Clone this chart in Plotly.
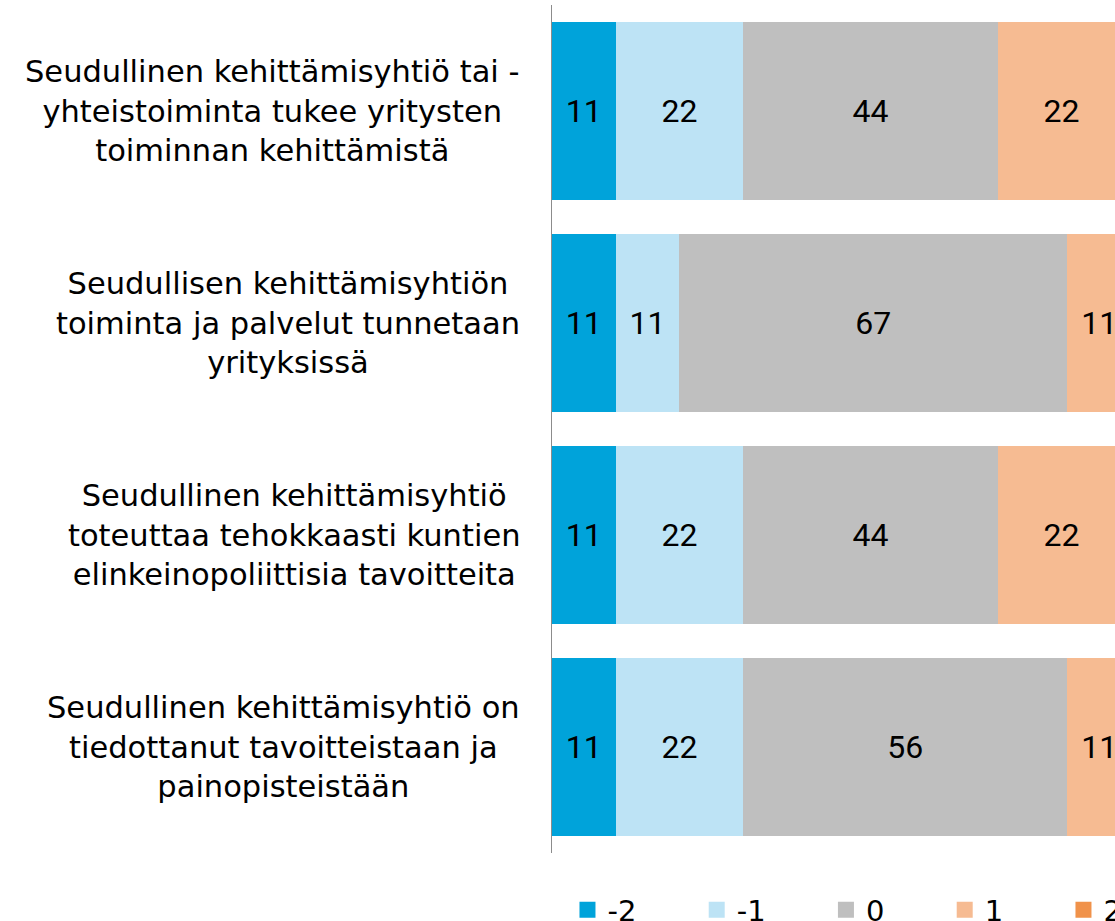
import plotly.graph_objects as go

categories = [
    "Seudullinen kehittämisyhtiö tai -<br>yhteistoiminta tukee yritysten<br>toiminnan kehittämistä",
    "Seudullisen kehittämisyhtiön<br>toiminta ja palvelut tunnetaan<br>yrityksissä",
    "Seudullinen kehittämisyhtiö<br>toteuttaa tehokkaasti kuntien<br>elinkeinopoliittisia tavoitteita",
    "Seudullinen kehittämisyhtiö on<br>tiedottanut tavoitteistaan ja<br>painopisteistään",
]
series_names = ["-2", "-1", "0", "1", "2"]
v_m2 = [11, 11, 11, 11]
v_m1 = [22, 11, 22, 22]
v_0 = [44, 67, 44, 56]
v_1 = [22, 11, 22, 11]
v_2 = [0, 0, 0, 0]
series_values = [v_m2, v_m1, v_0, v_1, v_2]
colors = ["#00A3DA", "#BDE3F5", "#BFBFBF", "#F6BB92", "#F0924A"]

keys = [f"c{i}" for i in range(len(categories))]

fig = go.Figure()
for name, vals, col in zip(series_names, series_values, colors):
    fig.add_trace(go.Bar(
        name=name, y=keys, x=vals, orientation="h",
        marker=dict(color=col, line=dict(width=0)),
        text=[f"{v:.0f}" if v else "" for v in vals],
        texttemplate="%{text}",
        textposition="inside", insidetextanchor="middle",
        textangle=0, constraintext="none",
        textfont=dict(family="Roboto", size=32, color="#000000"),
        hoverinfo="skip", showlegend=False,
    ))

# legend entries (square swatches); trailing no-break spaces give Excel-like spacing
for name, col in zip(series_names, colors):
    fig.add_trace(go.Scatter(
        name=name + "\u00a0" * 6, x=[None], y=[None], mode="markers",
        marker=dict(symbol="square", size=16, color=col, line=dict(width=0)),
        showlegend=True, hoverinfo="skip",
    ))

for k, lab in zip(keys, categories):
    fig.add_annotation(
        x=0, xref="paper", y=k, yref="y", xanchor="right", yanchor="middle",
        xshift=-30, text=lab, showarrow=False, align="center",
        font=dict(family="DejaVu Sans", size=30.5, color="#000000"),
    )

fig.update_layout(
    width=1240, height=945,
    margin=dict(l=552, r=109, t=5, b=92),
    barmode="stack", bargap=0.165,
    plot_bgcolor="white", paper_bgcolor="white",
    showlegend=True,
    legend=dict(
        orientation="h", xref="paper", x=1.0889, xanchor="right",
        yref="paper", y=-0.0672, yanchor="middle",
        font=dict(family="DejaVu Sans", size=29, color="#000000"),
        traceorder="normal", itemclick=False, itemdoubleclick=False,
        bgcolor="rgba(0,0,0,0)",
    ),
    xaxis=dict(range=[0, 100], visible=False, fixedrange=True),
    yaxis=dict(autorange="reversed", showticklabels=False, showline=True,
               linecolor="#8C8C8C", linewidth=1, ticks="", showgrid=False,
               zeroline=False, fixedrange=True),
)

fig.write_html("out.html", config={"displayModeBar": False})
